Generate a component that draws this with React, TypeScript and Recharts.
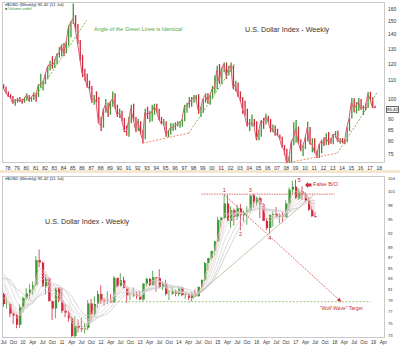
import React from 'react';
import { ComposedChart, Bar, Line, XAxis, YAxis, Cell, ReferenceLine, ReferenceDot } from 'recharts';

// upper panel: quarterly ranges, first slot = 1977 Q3
const firstQuarterYear = 1977;
const firstQuarter = 3;
const topSlots = 165;

const qHigh = [
  108, 106.5, 104, 102.5, 101.5, 100, 100.5, 101, 100, 101,
  103, 102, 101, 103.5, 103, 108, 114, 110, 114, 119,
  122, 125, 123, 127, 131, 133, 134, 135, 147, 150,
  164.7, 155, 148, 136, 126, 117, 114, 110, 107, 102,
  104, 101, 91, 95, 100, 98, 99, 104, 103, 97,
  95, 94, 90.5, 87, 91, 97, 97.5, 91, 90, 89,
  85, 95, 96, 94, 97, 97.5, 97.5, 95, 91, 90,
  89, 85, 88, 88, 88.5, 89, 89, 90, 97, 98,
  101, 101, 102, 102, 102.5, 96, 100, 103, 103, 102,
  107, 113, 119, 120, 118, 121, 121, 119, 121, 119.5,
  110, 109, 104, 101, 99, 95, 90, 92, 90, 89,
  85, 89.5, 90.5, 92.5, 91.5, 90, 87.5, 87, 85.5, 83,
  82, 78.5, 77, 74, 80.5, 88.5, 89.5, 86.5, 81, 78.5,
  82, 88.7, 86.3, 81.4, 81.4, 76.3, 79.1, 80.8, 81.8, 83.5,
  84.1, 81.4, 83.2, 84.5, 84.8, 81.5, 81.5, 81, 86.2, 90.4,
  100.4, 100.3, 98.3, 100.5, 99.9, 96.7, 97.6, 103.6, 103.8, 100.9,
  96.5,
];

const qLow = [
  105.5, 103, 101, 100, 97.5, 96.5, 98, 98.5, 97.5, 98,
  99, 98.5, 98.5, 99.5, 98.5, 101, 106, 104.5, 108, 111,
  116, 117, 117.5, 120, 124, 125, 125, 127, 132, 138,
  148, 142, 133, 122, 112, 110, 106, 105, 98, 97,
  98, 88, 84.5, 86, 93, 91, 92, 96, 95, 91,
  90.5, 89, 84, 82.5, 82, 88, 89, 84, 84.5, 83,
  79.3, 81, 90, 88.5, 89, 92, 93, 89.5, 87.5, 87,
  82, 81.8, 83, 84.5, 85, 86.5, 86, 86.5, 89, 93,
  95.5, 96, 98, 98.5, 92.5, 91, 93, 98, 97.5, 97,
  100, 103, 105, 108, 108, 115, 111, 113, 115, 105,
  104, 101, 98.5, 92.5, 91.5, 86.5, 84.5, 86.5, 86.5, 80.5,
  80.5, 82, 85.5, 87.5, 88.5, 84, 84, 82.5, 82.5, 81,
  77.5, 74.5, 71.4, 71.6, 71.6, 78.5, 79.5, 79, 76, 74.2,
  76.9, 80.1, 78.9, 75.6, 75.3, 73.4, 73.4, 75.2, 78.1, 78.6,
  78.6, 79.1, 78.9, 81.6, 79.9, 79.1, 79.3, 78.9, 79.7, 84.5,
  90.3, 93.1, 92.6, 93.8, 94.6, 91.9, 94.1, 95.4, 99.2, 95.5,
  95.3,
];

const qClose = [
  106, 103.5, 101.5, 101, 98, 99, 99.5, 99, 98.5, 100,
  102, 99.5, 100.5, 102.5, 101, 107, 108, 108.5, 113, 118,
  120, 119, 121, 126, 127, 132, 127, 133, 145, 149,
  152, 145, 134, 124, 114, 113, 107, 106, 99, 100,
  99, 88, 87, 94, 97, 93, 98, 100, 97, 92,
  93, 90, 85, 84, 89, 95, 90, 85, 89, 84,
  81, 93, 92, 93, 93, 96, 94, 90, 88, 88.5,
  83, 84, 86, 86, 87, 87.5, 88.5, 89.5, 96, 96.5,
  98, 99.5, 100.5, 101, 94, 94.5, 100, 102, 99, 101.5,
  105.5, 106, 116, 109.5, 117, 120, 113, 117, 119, 106,
  108, 102, 100, 95, 92, 87, 88, 88, 87.5, 81,
  84, 89, 88.5, 91, 89.5, 85.5, 85.5, 83.5, 83, 81.5,
  78, 76.5, 71.8, 72.5, 79.5, 81.5, 85.5, 80, 76.8, 77.9,
  81, 86.1, 78.9, 79, 75.9, 74.3, 78.5, 80.2, 79, 81.6,
  79.9, 79.8, 83, 83.1, 80.2, 80.2, 80.1, 79.8, 86, 90.3,
  98.4, 95.5, 96.4, 98.6, 94.6, 96.1, 95.4, 102.2, 100.4, 95.6,
  95.42,
];

const topPriceTicks = [75, 80, 85, 90, 100, 105, 110, 115, 120, 125, 130, 135, 140, 145, 150, 155, 160];

// lower panel: monthly bars, first slot = Jul 2009
const firstMonthYear = 2009;
const firstMonth = 7;
const bottomSlots = 118;

const mHigh = [
  80.4, 79.7, 78.6, 77.1, 76.7, 78.3,
  79.7, 81.3, 82.0, 82.5, 87.4, 88.7, 86.3, 83.8, 83.3, 79.0, 81.4, 81.4,
  81.4, 78.5, 77.2, 76.2, 76.3, 75.7, 76.0, 75.1, 79.1, 79.3, 79.8, 80.8,
  81.8, 79.5, 80.7, 80.2, 83.5, 83.0, 84.1, 83.4, 81.5, 80.4, 81.4, 80.7,
  80.8, 82.2, 83.2, 83.1, 84.5, 83.2, 84.8, 82.6, 82.8, 80.9, 81.5, 81.0,
  81.5, 81.5, 80.6, 80.4, 80.6, 81.0, 81.5, 82.8, 86.2, 87.0, 88.4, 90.4,
  95.5, 95.5, 100.4, 100.3, 97.8, 97.3, 98.1, 98.3, 96.8, 97.8, 100.2, 100.5,
  99.9, 99.9, 98.5, 95.2, 95.9, 96.7, 97.6, 96.3, 96.5, 99.1, 102.0, 103.6,
  103.8, 101.8, 102.3, 100.9, 99.8, 97.8, 96.5,
];

const mLow = [
  77.9, 77.6, 76.1, 74.9, 74.2, 74.3,
  76.9, 79.1, 79.3, 80.1, 81.7, 85.2, 81.5, 80.1, 78.9, 75.6, 75.9, 78.7,
  76.8, 76.1, 75.3, 72.8, 72.7, 73.5, 73.6, 73.4, 73.9, 75.2, 76.2, 77.8,
  78.4, 78.1, 78.4, 78.6, 78.6, 81.4, 82.1, 81.2, 78.6, 79.1, 79.6, 79.3,
  79.1, 78.9, 81.6, 81.6, 81.7, 80.6, 81.3, 80.9, 79.9, 79.1, 80.0, 79.8,
  79.8, 79.8, 79.3, 79.1, 78.9, 79.7, 79.7, 81.0, 82.6, 84.5, 86.7, 87.6,
  90.3, 93.2, 95.0, 94.5, 93.1, 93.6, 94.8, 92.6, 94.4, 93.8, 96.4, 97.4,
  97.9, 95.2, 94.6, 92.6, 91.9, 93.4, 95.3, 94.1, 94.4, 95.4, 96.8, 100.5,
  99.4, 99.2, 99.2, 98.8, 96.8, 95.5, 95.3,
];

const mClose = [
  78.4, 78.4, 76.7, 76.4, 74.8, 77.9,
  79.5, 80.3, 81.0, 81.8, 86.6, 86.1, 81.6, 83.1, 78.9, 77.6, 81.2, 79.0,
  77.2, 76.9, 75.9, 72.9, 74.6, 74.3, 74.0, 74.3, 78.5, 76.6, 78.4, 80.2,
  79.0, 78.9, 79.0, 78.7, 83.2, 81.6, 82.7, 81.3, 79.9, 79.9, 80.1, 79.8,
  79.2, 82.1, 83.0, 81.8, 83.3, 83.1, 81.5, 82.1, 80.2, 80.2, 80.7, 80.2,
  81.2, 80.0, 80.1, 79.5, 80.4, 79.8, 81.5, 82.8, 86.0, 87.0, 88.4, 90.3,
  94.8, 95.3, 98.4, 94.6, 96.9, 95.5, 97.3, 95.8, 96.4, 96.9, 100.2, 98.6,
  99.6, 98.2, 94.6, 93.1, 95.9, 96.1, 95.5, 95.9, 95.4, 98.4, 101.5, 102.2,
  99.5, 101.1, 100.4, 99.1, 97.0, 95.6, 95.42,
];

// closes Aug 2008 - Jun 2009, only used to start the moving averages
const maLeadCloses = [77.5, 79.5, 85.8, 86.5, 81.5, 86.1, 88.6, 85.8, 85.6, 80.0, 80.2];
const maWindows = [3, 4, 5, 6, 8, 10, 12];
const maColors = ['#eebcbc', '#e6c6c6', '#ddd0d0', '#d8d8d8', '#d2d2d2', '#cbcbcb', '#c4c4c4'];

const bottomPriceTicks = [73, 74, 75, 76, 77, 78, 79, 80, 81, 82, 83, 84, 85, 86, 87, 88, 89, 90, 91, 92, 93, 94, 95, 96, 97, 98, 99, 100, 101, 102, 103, 104];

const RED = '#d3283d';
const GREEN = '#3c9a34';
const FONT = '"Liberation Sans", Arial, sans-serif';
const monthNames: Record<number, string> = { 4: 'Apr', 7: 'Jul', 10: 'Oct' };

const qKey = (i: number) => {
  const n = firstQuarter - 1 + i;
  return `${firstQuarterYear + Math.floor(n / 4)}Q${(n % 4) + 1}`;
};
const mKey = (i: number) => {
  const n = firstMonth - 1 + i;
  const m = (n % 12) + 1;
  return `${firstMonthYear + Math.floor(n / 12)}-${String(m).padStart(2, '0')}`;
};

const topRows = Array.from({ length: topSlots }, (_, i) => {
  if (i >= qClose.length) return { k: qKey(i) } as any;
  const open = i > 0 ? qClose[i - 1] : qHigh[0];
  return { k: qKey(i), range: [qLow[i], qHigh[i]], close: qClose[i], up: qClose[i] >= open };
});

const allCloses = [...maLeadCloses, ...mClose];
const bottomRows = Array.from({ length: bottomSlots }, (_, i) => {
  if (i >= mClose.length) return { k: mKey(i) } as any;
  const open = allCloses[maLeadCloses.length + i - 1];
  const row: any = {
    k: mKey(i),
    wick: [mLow[i], mHigh[i]],
    body: [Math.min(open, mClose[i]), Math.max(open, mClose[i])],
    up: mClose[i] >= open,
  };
  maWindows.forEach((w) => {
    const end = maLeadCloses.length + i;
    const part = allCloses.slice(end - w + 1, end + 1);
    row[`ma${w}`] = part.reduce((s, v) => s + v, 0) / part.length;
  });
  return row;
});

const topTickFmt = (k: string) => (k.endsWith('Q1') ? k.slice(2, 4) : '');
const bottomTickFmt = (k: string) => {
  const m = Number(k.slice(5));
  if (m === 1) return k.slice(2, 4);
  return monthNames[m] || '';
};

const WolfHead = (p: any) => {
  const { cx, cy } = p;
  return <path d={`M${cx},${cy} L${cx - 4.3},${cy - 1.2} L${cx - 1.6},${cy - 4.2} Z`} fill={RED} />;
};

const numLabel = (value: string, position: any) => ({ value, position, fontSize: 5.5, fill: '#b3302c', offset: 2 });

const text = (left: number, top: number, size: number, color: string, content: React.ReactNode, extra: any = {}) => (
  <div style={{ position: 'absolute', left, top, fontSize: size, color, lineHeight: 1, whiteSpace: 'nowrap', fontFamily: FONT, ...extra }}>{content}</div>
);

export default function App() {
  return (
    <div style={{ position: 'absolute', left: 0, top: 0, width: 400, height: 348, background: '#fff', fontFamily: FONT }}>
      <div style={{ position: 'absolute', left: 2, top: 2, width: 383, height: 161, border: '1px solid #c9c9c9', boxSizing: 'border-box' }} />
      <div style={{ position: 'absolute', left: 0, top: 170, width: 400, height: 3, background: '#f4e6cf' }} />
      <div style={{ position: 'absolute', left: 2, top: 176, width: 383, height: 162, border: '1px solid #c9c9c9', boxSizing: 'border-box' }} />

      <div style={{ position: 'absolute', left: 0, top: 0 }}>
        <ComposedChart width={400} height={172} data={topRows} margin={{ top: 2, right: 0, bottom: 1, left: 2 }}>
          <XAxis dataKey="k" interval={0} height={8} tickLine={false} axisLine={false} tickSize={0} tickMargin={3}
            tick={{ fontSize: 5, fill: '#333', fontFamily: FONT }} tickFormatter={topTickFmt} />
          <YAxis orientation="right" scale="log" domain={[71.5, 166]} allowDataOverflow ticks={topPriceTicks} width={15}
            tickLine={false} axisLine={false} tickSize={0} tickMargin={3} tick={{ fontSize: 5, fill: '#333', fontFamily: FONT }} />
          <Line dataKey="close" stroke="#dc5c70" strokeWidth={1} dot={false} isAnimationActive={false} />
          <Bar dataKey="range" barSize={1.3} isAnimationActive={false}>
            {topRows.map((r: any, i) => <Cell key={i} fill={r.up ? GREEN : RED} />)}
          </Bar>
          <ReferenceLine segment={[{ x: '1980Q4', y: 99.4 }, { x: '1986Q3', y: 150.8 }]} stroke="#72b04a" strokeDasharray="2 1.5" strokeWidth={0.9} />
          <ReferenceLine segment={[{ x: '1992Q3', y: 79.3 }, { x: '1997Q3', y: 83.6 }]} stroke="#ef7f5a" strokeDasharray="2 1.5" strokeWidth={0.9} />
          <ReferenceLine segment={[{ x: '1997Q3', y: 83.6 }, { x: '2002Q3', y: 120.4 }]} stroke="#72b04a" strokeDasharray="2 1.5" strokeWidth={0.9} />
          <ReferenceLine segment={[{ x: '2008Q1', y: 71.5 }, { x: '2013Q3', y: 75.3 }]} stroke="#ef7f5a" strokeDasharray="2 1.5" strokeWidth={0.9} />
          <ReferenceLine segment={[{ x: '2013Q3', y: 75.3 }, { x: '2017Q4', y: 103.2 }]} stroke="#72b04a" strokeDasharray="2 1.5" strokeWidth={0.9} />
        </ComposedChart>
      </div>

      <div style={{ position: 'absolute', left: 0, top: 172 }}>
        <ComposedChart width={400} height={176} data={bottomRows} margin={{ top: 4, right: 0, bottom: 2, left: 2 }}>
          <XAxis dataKey="k" interval={0} height={8} tickLine={false} axisLine={false} tickSize={0} tickMargin={3}
            tick={{ fontSize: 4.6, fill: '#333', fontFamily: FONT }} tickFormatter={bottomTickFmt} />
          <XAxis dataKey="k" xAxisId="w" hide />
          <YAxis orientation="right" scale="log" domain={[72.6, 104.7]} allowDataOverflow ticks={bottomPriceTicks} width={15}
            tickLine={false} axisLine={false} tickSize={0} tickMargin={3} tick={{ fontSize: 4.2, fill: '#333', fontFamily: FONT }} />
          {maWindows.map((w, j) => (
            <Line key={w} dataKey={`ma${w}`} stroke={maColors[j]} strokeWidth={0.7} dot={false} isAnimationActive={false} />
          ))}
          <Bar dataKey="wick" xAxisId="w" barSize={0.8} isAnimationActive={false}>
            {bottomRows.map((r: any, i) => <Cell key={i} fill={r.up ? GREEN : RED} />)}
          </Bar>
          <Bar dataKey="body" barSize={2.2} isAnimationActive={false}>
            {bottomRows.map((r: any, i) => <Cell key={i} fill={r.up ? GREEN : RED} />)}
          </Bar>
          <ReferenceLine segment={[{ x: '2012-04', y: 78.8 }, { x: '2018-12', y: 78.8 }]} stroke="#86b85a" strokeDasharray="2 1.5" strokeWidth={0.8} />
          <ReferenceLine segment={[{ x: '2014-08', y: 100.5 }, { x: '2018-01', y: 100.5 }]} stroke="#c9473f" strokeDasharray="1.5 1" strokeWidth={0.8} />
          <ReferenceLine segment={[{ x: '2014-04', y: 78.7 }, { x: '2017-07', y: 100.6 }]} stroke="#b3aa86" strokeWidth={0.7} />
          <ReferenceLine segment={[{ x: '2015-03', y: 100.3 }, { x: '2018-03', y: 78.8 }]} stroke="#d3504a" strokeDasharray="2 1.2" strokeWidth={0.8} />
          <ReferenceDot x="2018-03" y={78.8} r={2} shape={WolfHead} />
          <ReferenceDot x="2015-03" y={100.4} r={0.1} fill="none" stroke="none" label={numLabel('1', 'top')} />
          <ReferenceDot x="2015-08" y={92.6} r={0.1} fill="none" stroke="none" label={numLabel('2', 'bottom')} />
          <ReferenceDot x="2015-11" y={100.5} r={0.1} fill="none" stroke="none" label={numLabel('3', 'top')} />
          <ReferenceDot x="2016-05" y={91.9} r={0.1} fill="none" stroke="none" label={numLabel('4', 'bottom')} />
          <ReferenceDot x="2017-01" y={103.8} r={0.1} fill="none" stroke="none" label={numLabel('5', 'right')} />
        </ComposedChart>
      </div>

      {text(5, 3, 4.3, '#222', <span><b style={{ color: '#4a8f3a' }}>▾</b>$USD (Weekly) 95.42 (11 Jul)</span>)}
      {text(5, 8, 3.8, '#3d8f3a', '■ Volume undef')}
      {text(245, 25.5, 7.2, '#333', 'U.S. Dollar Index - Weekly')}
      {text(94, 26.5, 5.5, '#5aa433', 'Angle of the Green Lines is Identical')}
      <div style={{ position: 'absolute', left: 386, top: 106, width: 13, height: 6.5, border: '0.6px solid #666', boxSizing: 'border-box',
        fontSize: 4.3, lineHeight: '5.5px', textAlign: 'center', background: '#f2f2f2', fontFamily: FONT, color: '#111' }}>95.42</div>

      {text(5, 177, 4.3, '#222', <span><b style={{ color: '#4a8f3a' }}>▾</b>$USD (Weekly) 95.42 (11 Jul)</span>)}
      {text(45, 217.5, 7.2, '#333', 'U.S. Dollar Index - Weekly')}
      <svg style={{ position: 'absolute', left: 305, top: 182 }} width={7} height={6}>
        <path d="M0,3 L3,0 L3,1.6 L6.5,1.6 L6.5,4.4 L3,4.4 L3,6 Z" fill={RED} />
      </svg>
      {text(313, 182.3, 5.6, '#c62f32', 'False B/O')}
      {text(320, 305.5, 5, '#c62f32', '"Wolf Wave" Target')}
    </div>
  );
}
